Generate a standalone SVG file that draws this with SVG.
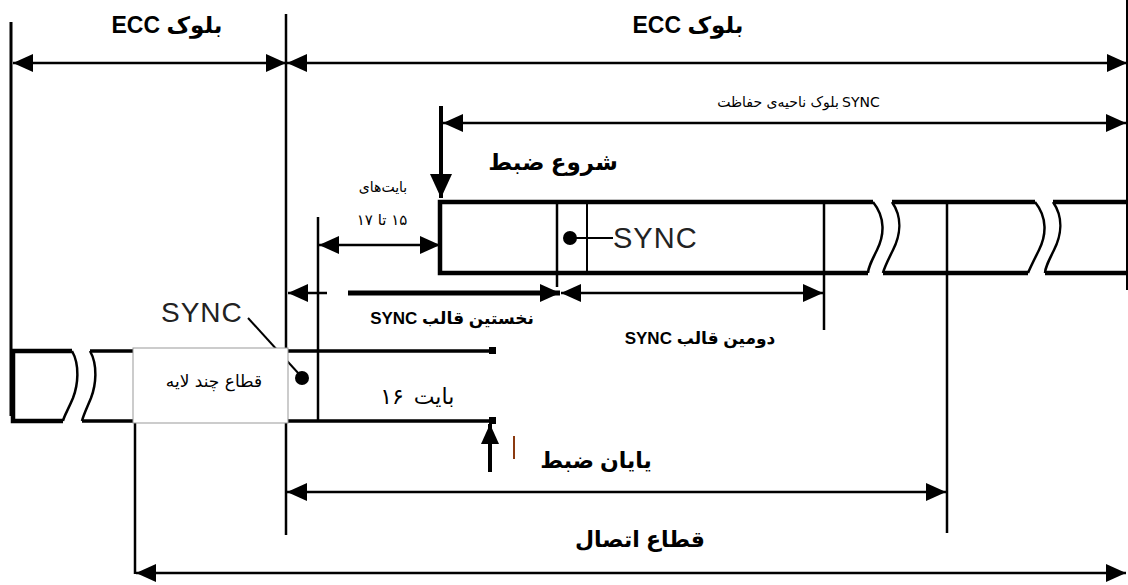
<svg xmlns="http://www.w3.org/2000/svg" width="1128" height="585" viewBox="0 0 1128 585">
<style>
.ln{stroke:#000;stroke-width:2.5;fill:none}
.th{stroke:#000;stroke-width:4.5;fill:none}
.wv{stroke:#000;stroke-width:2.5;fill:none}
.fa{font-family:"DejaVu Sans",sans-serif;fill:#000}
.lb{font-family:"Liberation Sans","DejaVu Sans",sans-serif;font-weight:bold;fill:#000}
.sy{font-family:"Liberation Sans",Arial,sans-serif;font-size:29px;letter-spacing:1px;fill:#222}
</style>
<defs>
<marker id="ah" markerUnits="userSpaceOnUse" markerWidth="20" markerHeight="18" refX="20" refY="9" orient="auto-start-reverse" viewBox="0 0 20 18"><path d="M0,0 L20,9 L0,18 z" fill="#000"/></marker>
<marker id="ahb" markerUnits="userSpaceOnUse" markerWidth="24" markerHeight="22" refX="24" refY="11" orient="auto-start-reverse" viewBox="0 0 24 22"><path d="M0,0 L24,11 L0,22 z" fill="#000"/></marker>
</defs>

<g id="frame">
<line class="ln" x1="11" y1="22" x2="11" y2="416" style="stroke-width:3"/>
<line class="ln" x1="286" y1="14" x2="286" y2="535"/>
<line class="ln" x1="1127" y1="0" x2="1127" y2="290" style="stroke-width:2"/>
<line class="ln" x1="318" y1="217" x2="318" y2="422"/>
<line class="ln" x1="557" y1="200" x2="557" y2="287"/>
<line class="ln" x1="587" y1="202" x2="587" y2="273" style="stroke-width:2"/>
<line class="ln" x1="824" y1="202" x2="824" y2="330"/>
<line class="ln" x1="947" y1="202" x2="947" y2="533"/>
<line class="ln" x1="135" y1="422" x2="135" y2="574"/>
</g>

<g id="upper-strip">
<path class="th" d="M873,202 L440,202 L440,273 L868,273"/>
<path class="wv" d="M873,202 C886,218 884,236 877,250 C871,262 868,268 868,273"/>
<path class="th" d="M892,202 L1035,202 M883,273 L1028,273"/>
<path class="wv" d="M892,202 C903,218 900,236 893,250 C887,262 884,268 883,273"/>
<path class="wv" d="M1035,202 C1048,218 1046,236 1039,250 C1033,262 1030,268 1028,273"/>
<path class="th" d="M1053,202 L1127,202 M1045,273 L1127,273"/>
<path class="wv" d="M1053,202 C1064,218 1061,236 1054,250 C1048,262 1045,268 1045,273"/>
<circle cx="570" cy="238" r="7" fill="#000"/>
<line class="ln" x1="576" y1="238" x2="613" y2="238" style="stroke-width:2"/>
<text class="sy" x="613" y="248">SYNC</text>
</g>

<g id="lower-strip">
<path class="th" d="M72,351 L13,351 L13,421 L63,421"/>
<path class="wv" d="M72,351 C80,365 78,385 73,398 C68,410 64,416 63,421"/>
<path class="th" d="M90,351 L493,351 M82,421 L493,421" style="stroke-width:3.5"/>
<path class="wv" d="M90,351 C98,365 96,385 91,398 C86,410 83,416 82,421"/>
<rect x="489" y="347" width="7" height="7" fill="#000"/>
<rect x="489" y="417" width="7" height="7" fill="#000"/>
<line class="ln" x1="248" y1="318" x2="299" y2="374" style="stroke-width:2"/>
<circle cx="302" cy="378" r="7" fill="#000"/>
<text class="sy" x="161" y="322" style="font-size:28px">SYNC</text>
<text class="fa" x="392" y="404" font-size="22" text-anchor="middle">۱۶</text>
<text class="fa" x="434" y="404" font-size="22" text-anchor="middle" direction="rtl">بایت</text>
</g>

<g id="multilayer-box">
<rect x="133" y="348" width="155" height="75" fill="#fff" stroke="#999" stroke-width="1"/>
<text class="fa" x="214" y="387" font-size="17" text-anchor="middle" direction="rtl">قطاع چند لایه</text>
</g>

<g id="connectors">
<line class="ln" x1="13" y1="63" x2="286" y2="63" marker-start="url(#ah)" marker-end="url(#ah)"/>
<line class="ln" x1="287" y1="63" x2="1127" y2="63" marker-start="url(#ah)" marker-end="url(#ah)"/>
<line class="ln" x1="443" y1="123" x2="1126" y2="123" marker-start="url(#ah)" marker-end="url(#ah)"/>
<line class="th" x1="441" y1="106" x2="441" y2="198" style="stroke-width:4" marker-end="url(#ahb)"/>
<line class="ln" x1="319" y1="245" x2="440" y2="245" marker-start="url(#ah)" marker-end="url(#ah)"/>
<line class="ln" x1="288" y1="293" x2="327" y2="293" marker-start="url(#ah)"/>
<line class="th" x1="348" y1="293" x2="560" y2="293" style="stroke-width:5" marker-end="url(#ah)"/>
<line class="ln" x1="561" y1="293" x2="823" y2="293" marker-start="url(#ah)" marker-end="url(#ah)"/>
<line class="ln" x1="287" y1="492" x2="946" y2="492" marker-start="url(#ah)" marker-end="url(#ah)"/>
<line class="ln" x1="136" y1="573" x2="1126" y2="573" marker-start="url(#ah)" marker-end="url(#ah)"/>
<line class="th" x1="490" y1="472" x2="490" y2="424" style="stroke-width:4" marker-end="url(#ah)"/>
<line x1="514" y1="436" x2="514" y2="459" stroke="#8b3a10" stroke-width="2"/>
</g>

<g id="labels">
<text class="lb" x="167" y="33" font-size="23" text-anchor="middle" direction="rtl">بلوک ECC</text>
<text class="lb" x="688" y="33" font-size="23" text-anchor="middle" direction="rtl">بلوک ECC</text>
<text class="fa" x="778" y="107" font-size="14" text-anchor="middle" direction="rtl">بلوک ناحیه‌ی حفاظت</text>
<text class="fa" x="842" y="107" font-size="14">SYNC</text>
<text class="lb" x="553" y="170" font-size="23" text-anchor="middle" direction="rtl">شروع ضبط</text>
<text class="fa" x="383" y="192" font-size="14" text-anchor="middle" direction="rtl">بایت‌های</text>
<text class="fa" x="382" y="225" font-size="15" text-anchor="middle" direction="rtl">۱۵ تا ۱۷</text>
<text class="lb" x="452" y="324" font-size="17" text-anchor="middle" direction="rtl">نخستین قالب SYNC</text>
<text class="lb" x="700" y="344" font-size="17" text-anchor="middle" direction="rtl">دومین قالب SYNC</text>
<text class="lb" x="596" y="468" font-size="22" text-anchor="middle" direction="rtl">یایان ضبط</text>
<text class="lb" x="640" y="547" font-size="22" text-anchor="middle" direction="rtl">قطاع اتصال</text>
</g>
</svg>
